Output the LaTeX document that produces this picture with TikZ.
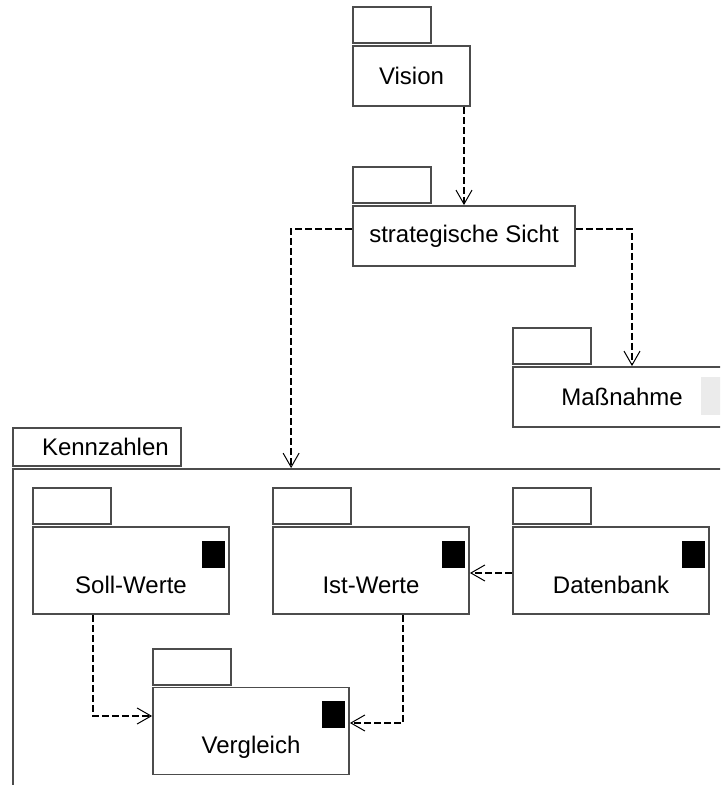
\documentclass[tikz,border=0pt]{standalone}
\usepackage{fontspec}
\setmainfont{Liberation Sans}
\usetikzlibrary{arrows.meta}
\usetikzlibrary{positioning}

\begin{document}
\begin{tikzpicture}[x=0.5pt,y=-0.5pt,
        font=\fontsize{12}{14}\selectfont,
        box/.style={draw=black!70,line width=0.9pt,inner sep=0pt},
        tab/.style={box,minimum width=39pt,minimum height=18pt},
        body/.style={box,minimum width=98pt,minimum height=43.5pt,text height=22.5pt,text depth=0pt},
        flag/.style={fill=black,minimum width=11.5pt,minimum height=13.5pt,inner sep=0pt},
        dep/.style={dash pattern=on 3.5pt off 1.5pt,line width=0.9pt,
                    -{Straight Barb[length=7pt,width=8pt,line width=0.5pt]}}]
        \useasboundingbox (0,0) rectangle (720,785);
        \clip (0,0) rectangle (720,785);

        % top packages
        \node[box,minimum width=58.5pt,minimum height=30pt] (vision) at (411.5,76) {Vision};
        \node[tab,above right=0.5pt and 0pt of vision.north west] (visiontab) {};
        \node[box,minimum width=111pt,minimum height=30pt] (sicht) at (464,236) {strategische Sicht};
        \node[tab,above right=0.5pt and 0pt of sicht.north west] (sichttab) {};
        \node[box,minimum width=109pt,minimum height=30pt] (mass) at (622,397) {Maßnahme};
        \node[tab,above right=0.5pt and 0pt of mass.north west] (masstab) {};
        \fill[black!8] (701,377) rectangle (725,415);

        % Kennzahlen
        \node[box,minimum width=373.5pt,minimum height=175.5pt] (kenn) at (386.5,644.5) {};
        \node[box,minimum height=19pt,text width=55pt,inner xsep=14.5pt,align=left,
              above right=0.5pt and 0pt of kenn.north west] (kenntab) {Kennzahlen};

        \node[body] (soll) at (131,570.5) {Soll-Werte};
        \node[tab,above right=0.5pt and 0pt of soll.north west] (solltab) {};
        \node[flag,below left=7pt and 2.5pt of soll.north east] (sollflag) {};

        \node[body] (ist) at (371,570.5) {Ist-Werte};
        \node[tab,above right=0.5pt and 0pt of ist.north west] (isttab) {};
        \node[flag,below left=7pt and 2.5pt of ist.north east] (istflag) {};

        \node[body] (daten) at (611,570.5) {Datenbank};
        \node[tab,above right=0.5pt and 0pt of daten.north west] (datentab) {};
        \node[flag,below left=7pt and 2.5pt of daten.north east] (datenflag) {};

        \node[body] (verg) at (251,731) {Vergleich};
        \node[tab,above right=0.5pt and 0pt of verg.north west] (vergtab) {};
        \node[flag,below left=7pt and 2.5pt of verg.north east] (vergflag) {};

        % dependencies
        \draw[dep] (vision.south -| sicht.north) -- (sicht.north);
        \draw[dep] ([yshift=3.5pt]sicht.west) -| ([xshift=139.5pt]kenn.north west);
        \draw[dep] ([yshift=3.5pt]sicht.east) -| ([xshift=5pt]mass.north);
        \draw[dep] ([yshift=-1.25pt]daten.west) -- ([yshift=-1.25pt]ist.east);
        \draw[dep] ([xshift=-19pt]soll.south) |- ([yshift=7.5pt]verg.west);
        \draw[dep] ([xshift=16pt]ist.south) |- ([yshift=4pt]verg.east);

\end{tikzpicture}
\end{document}
